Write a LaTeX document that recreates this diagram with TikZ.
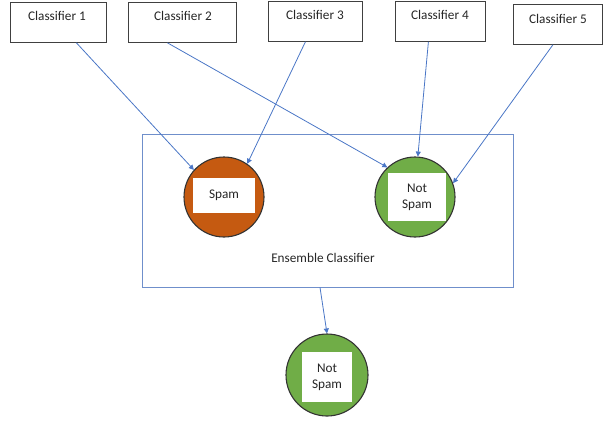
\documentclass[tikz,border=0pt]{standalone}
\usepackage{fontspec}
\setmainfont{Carlito}
\usetikzlibrary{arrows.meta,calc}
\definecolor{linkblue}{HTML}{4A76C6}
\definecolor{frameblue}{HTML}{6F8FCB}
\definecolor{spamorange}{HTML}{C55A11}
\definecolor{hamgreen}{HTML}{70AD47}
\tikzset{
  txt/.style={font=\fontsize{13.3}{16}\selectfont, text=black!85},
  clfbox/.style={draw=black!75, line width=0.8bp, fill=white, rectangle,
    minimum width=#1, minimum height=40bp, anchor=north west, inner sep=0pt},
  vote/.style={circle, draw=black!80, line width=1.1bp, fill=#1, minimum size=80bp, inner sep=0pt},
  label box/.style={txt, fill=white, draw=none, inner sep=0pt, align=center},
  link/.style={draw=linkblue, line width=0.8bp, -{Triangle[length=5bp,width=5bp]}}
}
\begin{document}
\begin{tikzpicture}[x=1bp,y=-1bp]
\useasboundingbox (0,0) rectangle (603,423);

% base classifiers
\node[clfbox=96bp]  (c1) at (10,2)  {};
\node[clfbox=108bp] (c2) at (128,2) {};
\node[clfbox=94bp]  (c3) at (268,1) {};
\node[clfbox=90bp]  (c4) at (395,1) {};
\node[clfbox=89bp]  (c5) at (513,4) {};
\node[txt] (t1) at (57,16)  {Classifier 1};
\node[txt] (t2) at (183,16) {Classifier 2};
\node[txt] (t3) at (315,15) {Classifier 3};
\node[txt] (t4) at (440,15) {Classifier 4};
\node[txt] (t5) at (558,19) {Classifier 5};

% ensemble frame
\node[draw=frameblue, line width=0.9bp, minimum width=371bp, minimum height=153bp,
      inner sep=0pt] (ens) at (327.5,210.5) {};
\node[txt] (enslabel) at (323,258) {Ensemble Classifier};

% individual votes
\node[vote=spamorange] (spam) at (224,197) {};
\node[label box, minimum width=62bp, minimum height=35bp] (spamtxt) at (224,195.5) {Spam};
\node[vote=hamgreen] (ham) at (415,197) {};
\node[label box, minimum width=58bp, minimum height=48bp] (hamtxt) at (417,197) {Not\\Spam};

% final decision
\node[vote=hamgreen, minimum size=82bp] (final) at (327,375) {};
\node[label box, minimum width=50bp, minimum height=50bp] (finaltxt) at (327,377) {Not\\Spam};

% classifier outputs
\draw[link] ([xshift=18bp]c1.south) -- (spam.138);
\draw[link] ([xshift=-15bp]c2.south) -- (ham.133);
\draw[link] ([xshift=-10bp]c3.south) -- (spam.55);
\draw[link] ([xshift=-12bp]c4.south) -- (ham.86);
\draw[link] ([xshift=-5bp]c5.south) -- (ham.20);
\draw[link] ([xshift=-7.5bp]ens.south) -- (final.north);
\end{tikzpicture}
\end{document}
